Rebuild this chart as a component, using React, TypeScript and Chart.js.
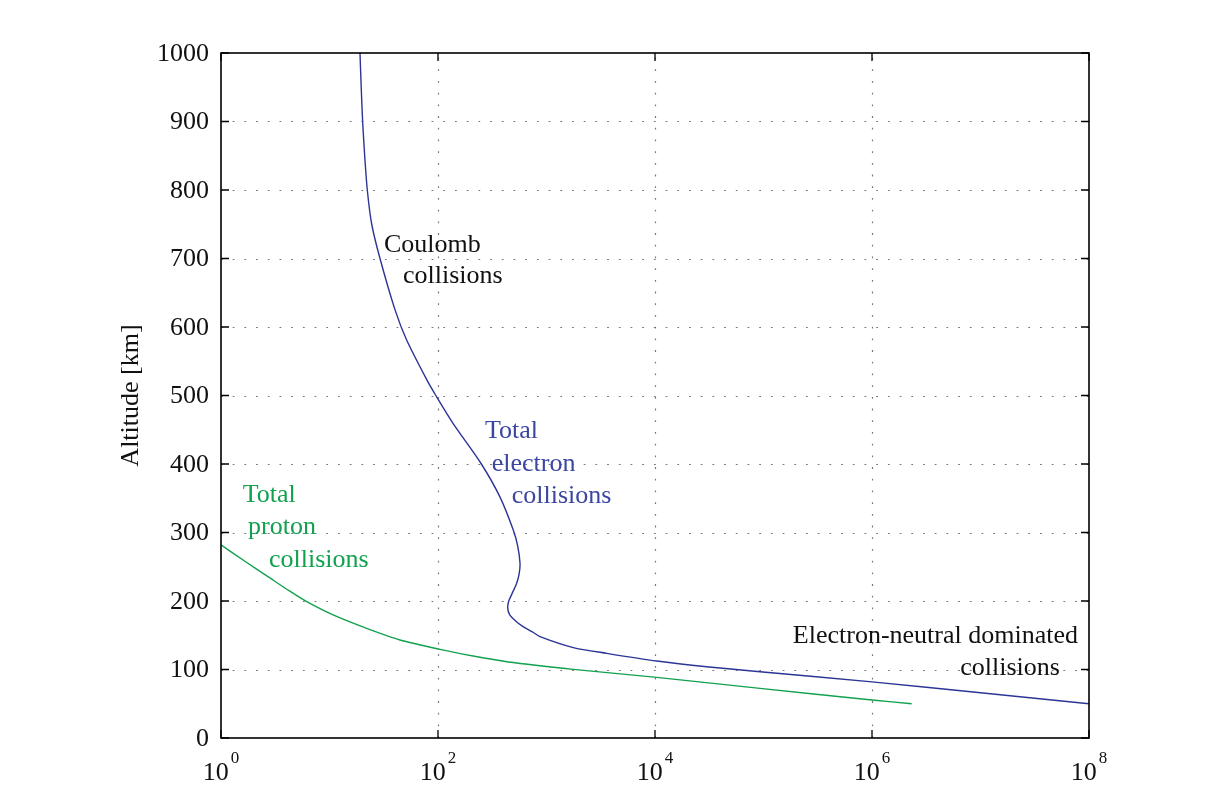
import React, { useEffect, useRef } from "react";
import { Chart, registerables } from "chart.js";

Chart.register(...registerables);

// Electron collision frequency curve (x: collision frequency, y: altitude km)
const electronFreq = [
  19.1, 19.6, 20.2, 21.1, 22.3, 24.5, 29.2, 40.2, 51.4, 79.4, 95.5, 138, 251,
  372, 494, 543, 570, 560, 531, 479, 449, 439, 457, 525, 603, 741, 871, 1766,
  3589, 10375, 29923, 92900, 1e6, 1e7, 1e8,
];
const electronAlt = [
  1000, 950, 900, 850, 800, 750, 700, 625, 581, 522, 500, 459, 400, 352,
  303.6, 280, 255, 240, 226, 210, 200, 190, 180, 170, 163, 155, 148, 132,
  123.6, 112.4, 104, 96.8, 82, 66, 50,
];

// Proton collision frequency curve
const protonFreq = [
  1, 1.66, 2.82, 4.27, 6.17, 10.8, 22, 44.7, 104, 211, 430, 1766, 10375,
  92900, 1e6, 2.32e6,
];
const protonAlt = [
  282, 258, 233.7, 214.7, 199, 179.6, 160, 143, 129.4, 119.7, 111.4, 100.2,
  88.5, 72.4, 55.5, 50,
];

const xTickExponents = [0, 2, 4, 6, 8];
const yTicks = [0, 100, 200, 300, 400, 500, 600, 700, 800, 900, 1000];
const yAxisTitle = "Altitude [km]";

const ELECTRON_COLOR = "#2B3596";
const ELECTRON_TEXT = "#3A46A0";
const PROTON_COLOR = "#12A14F";
const TEXT_COLOR = "#111111";

// Annotation labels placed in data coordinates (x value, altitude at baseline)
const annotationTexts = [
  "Coulomb",
  "collisions",
  "Total",
  "electron",
  "collisions",
  "Total",
  "proton",
  "collisions",
  "Electron-neutral dominated",
  "collisions",
];
const annotationX = [31.8, 47.6, 271, 313, 478, 1.585, 1.774, 2.77, 7.92e7, 5.4e7];
const annotationY = [709, 663.8, 437.5, 390.2, 343.5, 344.1, 297.4, 250.1, 138.2, 92];
const annotationColor = [
  TEXT_COLOR,
  TEXT_COLOR,
  ELECTRON_TEXT,
  ELECTRON_TEXT,
  ELECTRON_TEXT,
  PROTON_COLOR,
  PROTON_COLOR,
  PROTON_COLOR,
  TEXT_COLOR,
  TEXT_COLOR,
];
const annotationAlign: CanvasTextAlign[] = [
  "left",
  "left",
  "left",
  "left",
  "left",
  "left",
  "left",
  "left",
  "right",
  "right",
];

const FONT = '"Liberation Serif", "Times New Roman", serif';

const framePlugin = {
  id: "matlabFrame",
  beforeDatasetsDraw(chart: any) {
    const { ctx, chartArea, scales } = chart;
    const xs = scales.x;
    const ys = scales.y;
    ctx.save();
    ctx.strokeStyle = "#777777";
    ctx.lineWidth = 1.2;
    ctx.setLineDash([1.8, 9.9]);
    for (const e of xTickExponents) {
      const px = Math.round(xs.getPixelForValue(Math.pow(10, e))) + 0.5;
      if (px <= chartArea.left + 1 || px >= chartArea.right - 1) continue;
      ctx.beginPath();
      ctx.moveTo(px, chartArea.bottom);
      ctx.lineTo(px, chartArea.top);
      ctx.stroke();
    }
    for (const v of yTicks) {
      const py = Math.round(ys.getPixelForValue(v)) + 0.5;
      if (py <= chartArea.top + 1 || py >= chartArea.bottom - 1) continue;
      ctx.beginPath();
      ctx.moveTo(chartArea.left, py);
      ctx.lineTo(chartArea.right, py);
      ctx.stroke();
    }
    ctx.restore();
  },
  afterDraw(chart: any) {
    const { ctx, chartArea, scales } = chart;
    const xs = scales.x;
    const ys = scales.y;
    const { left, right, top, bottom } = chartArea;
    ctx.save();
    // border
    ctx.setLineDash([]);
    ctx.strokeStyle = "#000";
    ctx.lineWidth = 1.6;
    ctx.strokeRect(left, top, right - left, bottom - top);
    // ticks
    ctx.lineWidth = 1.3;
    const tl = 8;
    for (const e of xTickExponents) {
      const px = xs.getPixelForValue(Math.pow(10, e));
      ctx.beginPath();
      ctx.moveTo(px, bottom);
      ctx.lineTo(px, bottom - tl);
      ctx.moveTo(px, top);
      ctx.lineTo(px, top + tl);
      ctx.stroke();
    }
    for (const v of yTicks) {
      const py = ys.getPixelForValue(v);
      ctx.beginPath();
      ctx.moveTo(left, py);
      ctx.lineTo(left + tl, py);
      ctx.moveTo(right, py);
      ctx.lineTo(right - tl, py);
      ctx.stroke();
    }
    // y tick labels
    ctx.fillStyle = TEXT_COLOR;
    ctx.font = `26px ${FONT}`;
    ctx.textAlign = "right";
    ctx.textBaseline = "middle";
    for (const v of yTicks) {
      const py = ys.getPixelForValue(v);
      ctx.fillText(String(v), left - 12, py + 1);
    }
    // x tick labels: 10^n
    ctx.textBaseline = "alphabetic";
    ctx.textAlign = "left";
    for (const e of xTickExponents) {
      const px = xs.getPixelForValue(Math.pow(10, e));
      ctx.font = `26px ${FONT}`;
      const wBase = ctx.measureText("10").width;
      ctx.font = `17px ${FONT}`;
      const exp = String(e);
      const wExp = ctx.measureText(exp).width;
      const total = wBase + 2 + wExp;
      const x0 = px - total / 2;
      ctx.font = `26px ${FONT}`;
      ctx.fillText("10", x0, bottom + 42);
      ctx.font = `17px ${FONT}`;
      ctx.fillText(exp, x0 + wBase + 2, bottom + 24.5);
    }
    // y axis title
    ctx.save();
    ctx.font = `26px ${FONT}`;
    ctx.textAlign = "center";
    ctx.textBaseline = "middle";
    ctx.translate(131, (top + bottom) / 2);
    ctx.rotate(-Math.PI / 2);
    ctx.fillText(yAxisTitle, 0, 0);
    ctx.restore();
    // annotations
    ctx.font = `26px ${FONT}`;
    ctx.textBaseline = "alphabetic";
    for (let i = 0; i < annotationTexts.length; i++) {
      ctx.fillStyle = annotationColor[i];
      ctx.textAlign = annotationAlign[i];
      ctx.fillText(
        annotationTexts[i],
        xs.getPixelForValue(annotationX[i]),
        ys.getPixelForValue(annotationY[i])
      );
    }
    ctx.restore();
  },
};

export default function App() {
  const canvasRef = useRef<HTMLCanvasElement | null>(null);

  useEffect(() => {
    document.body.style.margin = "0";
    const canvas = canvasRef.current;
    if (!canvas) return;
    const chart = new Chart(canvas, {
      type: "scatter",
      data: {
        datasets: [
          {
            label: "Total electron collisions",
            data: electronFreq.map((f, i) => ({ x: f, y: electronAlt[i] })),
            borderColor: ELECTRON_COLOR,
            backgroundColor: ELECTRON_COLOR,
            borderWidth: 1.4,
            showLine: true,
            pointRadius: 0,
            tension: 0.25,
          },
          {
            label: "Total proton collisions",
            data: protonFreq.map((f, i) => ({ x: f, y: protonAlt[i] })),
            borderColor: PROTON_COLOR,
            backgroundColor: PROTON_COLOR,
            borderWidth: 1.4,
            showLine: true,
            pointRadius: 0,
            tension: 0.25,
          },
        ],
      },
      options: {
        animation: false,
        responsive: false,
        maintainAspectRatio: false,
        layout: { padding: { left: 221, right: 136, top: 53, bottom: 54 } },
        plugins: {
          legend: { display: false },
          tooltip: { enabled: false },
          title: { display: false },
        },
        scales: {
          x: { type: "logarithmic", min: 1, max: 1e8, display: false },
          y: { type: "linear", min: 0, max: 1000, display: false },
        },
      },
      plugins: [framePlugin],
    });
    return () => chart.destroy();
  }, []);

  return (
    <div style={{ width: 1225, height: 792, background: "#fff" }}>
      <canvas ref={canvasRef} width={1225} height={792} />
    </div>
  );
}
